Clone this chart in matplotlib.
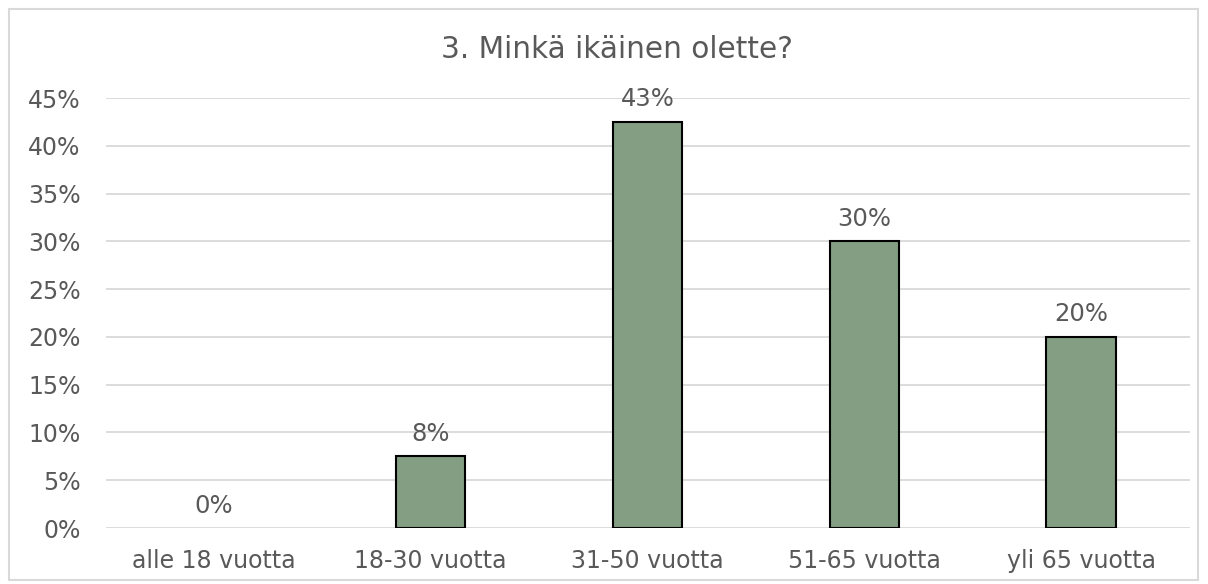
import matplotlib.pyplot as plt
from matplotlib.patches import Rectangle
from matplotlib.ticker import MultipleLocator, FuncFormatter

categories = ['alle 18 vuotta', '18-30 vuotta', '31-50 vuotta', '51-65 vuotta', 'yli 65 vuotta']
shares = [0.0, 7.5, 42.5, 30.0, 20.0]
title = '3. Minkä ikäinen olette?'

text_col = '#595959'
grid_col = '#D9D9D9'
bar_col = '#839E82'

fig = plt.figure(figsize=(12.08, 5.84), dpi=100)
ax = fig.add_axes([105.5 / 1208, 56 / 584, 1084 / 1208, 430 / 584])

x = range(len(categories))
edges = ['black' if v > 0 else 'none' for v in shares]
ax.bar(x, shares, width=0.32, color=bar_col, edgecolor=edges, linewidth=1.5, zorder=3)

# Excel style rounding (half up)
for i, v in enumerate(shares):
    ax.annotate(f'{int(v + 0.5)}%', (i, v), xytext=(0, 7.5), textcoords='offset points',
                ha='center', va='bottom', fontsize=17.5, color=text_col)

ax.set_xlim(-0.5, len(categories) - 0.5)
ax.set_ylim(0, 45)
ax.yaxis.set_major_locator(MultipleLocator(5))
ax.yaxis.set_major_formatter(FuncFormatter(lambda v, p: f'{v:.0f}%'))
ax.set_xticks(list(x))
ax.set_xticklabels(categories)
ax.tick_params(axis='both', length=0, labelsize=17, labelcolor=text_col)
ax.tick_params(axis='x', pad=15)
ax.tick_params(axis='y', pad=18)
ax.grid(axis='y', color=grid_col, linewidth=1.3, zorder=0)
for s in ax.spines.values():
    s.set_visible(False)

fig.text(617 / 1208, 1 - 50 / 584, title, ha='center', va='center', fontsize=21.3, color=text_col)

# outer chart border
fig.patches.append(Rectangle((9 / 1208, 4 / 584), 1189 / 1208, 571 / 584, transform=fig.transFigure,
                             fill=False, edgecolor='#D9D9D9', linewidth=1.5))

fig.savefig('out.png', dpi=100)
